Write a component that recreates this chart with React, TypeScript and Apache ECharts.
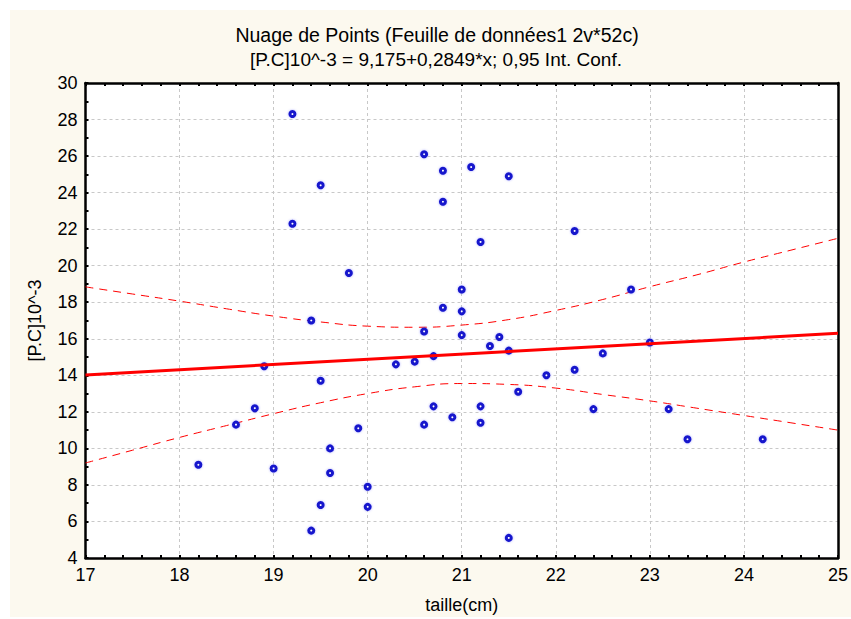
import React, { useEffect, useRef } from "react";
import * as echarts from "echarts";

const tailleValues = [
  19.2, 19.5, 19.2, 19.4, 20.6, 20.8, 21.1, 21.5, 20.8, 21.2, 22.2, 19.8, 21.0,
  20.8, 21.0, 22.8, 18.9, 19.5, 18.8, 18.6, 19.6, 18.2, 19.0, 19.6, 19.5, 19.4,
  20.6, 21.0, 21.3, 21.4, 21.5, 20.3, 20.5, 20.7, 21.9, 22.2, 21.6, 20.7, 21.2,
  20.9, 20.6, 21.2, 19.9, 20.0, 20.0, 21.5, 23.0, 22.5, 22.4, 23.2, 23.4, 24.2,
];
const pcValues = [
  28.3, 24.4, 22.3, 17.0, 26.1, 25.2, 25.4, 24.9, 23.5, 21.3, 21.9, 19.6, 18.7,
  17.7, 17.5, 18.7, 14.5, 13.7, 12.2, 11.3, 10.0, 9.1, 8.9, 8.65, 6.9, 5.5,
  16.4, 16.2, 15.6, 16.1, 15.35, 14.6, 14.75, 15.05, 14.0, 14.3, 13.1, 12.3, 12.3,
  11.7, 11.3, 11.4, 11.1, 7.9, 6.8, 5.1, 15.8, 15.2, 12.15, 12.15, 10.5, 10.5,
];

// Regression line end points
const fitX = [17, 25];
const fitY = [14.02, 16.3];

// 0.95 confidence band
const bandX = [17, 17.5, 18, 18.5, 19, 19.5, 20, 20.5, 21, 21.5, 22, 22.5, 23, 23.5, 24, 24.5, 25];
const bandUpper = [18.84, 18.45, 18.06, 17.64, 17.24, 16.92, 16.69, 16.63, 16.75, 17.05, 17.55, 18.15, 18.85, 19.5, 20.2, 20.85, 21.5];
const bandLower = [9.2, 9.9, 10.6, 11.25, 11.9, 12.5, 13.0, 13.37, 13.55, 13.5, 13.3, 12.95, 12.6, 12.2, 11.8, 11.4, 11.0];

const titleLine1 = "Nuage de Points (Feuille de données1 2v*52c)";
const titleLine2 = "[P.C]10^-3 = 9,175+0,2849*x; 0,95 Int. Conf.";
const xName = "taille(cm)";
const yName = "[P.C]10^-3";

const FONT = "Liberation Sans, Arial, sans-serif";

export default function App() {
  const ref = useRef<HTMLDivElement>(null);

  useEffect(() => {
    if (!ref.current) return;
    const chart = echarts.init(ref.current, null, { renderer: "svg" });

    const scatterData = tailleValues.map((x, i) => [x, pcValues[i]]);
    const fitData = fitX.map((x, i) => [x, fitY[i]]);
    const upperData = bandX.map((x, i) => [x, bandUpper[i]]);
    const lowerData = bandX.map((x, i) => [x, bandLower[i]]);

    const tickStyle = { color: "#000", width: 2 };

    chart.setOption({
      animation: false,
      backgroundColor: "#ffffff",
      textStyle: { fontFamily: FONT },
      graphic: [
        {
          type: "rect",
          z: -10,
          silent: true,
          shape: { x: 10, y: 10, width: 841, height: 607 },
          style: { fill: "#fcf9ef" },
        },
        {
          type: "text",
          x: 437,
          y: 35,
          style: {
            text: titleLine1,
            textAlign: "center",
            textVerticalAlign: "middle",
            font: `19.5px ${FONT}`,
            fill: "#000",
          },
        },
        {
          type: "text",
          x: 436,
          y: 59,
          style: {
            text: titleLine2,
            textAlign: "center",
            textVerticalAlign: "middle",
            font: `19px ${FONT}`,
            fill: "#000",
          },
        },
      ],
      grid: {
        left: 85.5,
        right: 8,
        top: 83,
        bottom: 59,
        show: true,
        backgroundColor: "#ffffff",
        borderWidth: 0,
      },
      xAxis: [
        {
          type: "value",
          min: 17,
          max: 25,
          interval: 1,
          position: "bottom",
          name: xName,
          nameLocation: "middle",
          nameGap: 38,
          nameTextStyle: { color: "#000", fontSize: 18, fontFamily: FONT },
          axisLine: { show: true, onZero: false, lineStyle: { color: "#000", width: 2.5 } },
          axisTick: { show: true, inside: true, length: 3, lineStyle: tickStyle },
          minorTick: { show: true, splitNumber: 5, length: 3, lineStyle: tickStyle },
          axisLabel: { color: "#000", fontSize: 18, margin: 8, fontFamily: FONT },
          splitLine: { show: true, lineStyle: { color: "#c8c8c8", type: [3, 3], width: 1 } },
        },
        {
          type: "value",
          min: 17,
          max: 25,
          interval: 1,
          position: "top",
          axisLine: { show: true, onZero: false, lineStyle: { color: "#000", width: 2.5 } },
          axisTick: { show: true, inside: true, length: 3, lineStyle: tickStyle },
          minorTick: { show: true, splitNumber: 5, length: 3, lineStyle: tickStyle },
          axisLabel: { show: false },
          splitLine: { show: false },
        },
      ],
      yAxis: [
        {
          type: "value",
          min: 4,
          max: 30,
          interval: 2,
          position: "left",
          name: yName,
          nameLocation: "middle",
          nameGap: 42,
          nameRotate: 90,
          nameTextStyle: { color: "#000", fontSize: 18, fontFamily: FONT },
          axisLine: { show: true, onZero: false, lineStyle: { color: "#000", width: 2.5 } },
          axisTick: { show: true, inside: true, length: 3, lineStyle: tickStyle },
          minorTick: { show: true, splitNumber: 2, length: 3, lineStyle: tickStyle },
          axisLabel: { color: "#000", fontSize: 18, margin: 8, fontFamily: FONT },
          splitLine: { show: true, lineStyle: { color: "#c8c8c8", type: [3, 3], width: 1 } },
        },
        {
          type: "value",
          min: 4,
          max: 30,
          interval: 2,
          position: "right",
          axisLine: { show: true, onZero: false, lineStyle: { color: "#000", width: 2.5 } },
          axisTick: { show: false },
          axisLabel: { show: false },
          splitLine: { show: false },
        },
      ],
      series: [
        {
          type: "line",
          data: upperData,
          smooth: true,
          symbol: "none",
          lineStyle: { color: "#ff0000", width: 1, type: [8, 6] },
          z: 2,
        },
        {
          type: "line",
          data: lowerData,
          smooth: true,
          symbol: "none",
          lineStyle: { color: "#ff0000", width: 1, type: [8, 6] },
          z: 2,
        },
        {
          type: "scatter",
          data: scatterData,
          symbol: "circle",
          symbolSize: 5,
          itemStyle: {
            color: "#ffffff",
            borderColor: "#1515cc",
            borderWidth: 3,
            opacity: 1,
            shadowBlur: 2,
            shadowColor: "rgba(80,80,255,0.5)",
          },
          z: 3,
        },
        {
          type: "line",
          data: fitData,
          symbol: "none",
          lineStyle: { color: "#ff0000", width: 3 },
          z: 4,
        },
      ],
    });

    return () => chart.dispose();
  }, []);

  return (
    <div
      ref={ref}
      style={{ position: "absolute", left: 0, top: 0, width: 851, height: 619 }}
    />
  );
}
